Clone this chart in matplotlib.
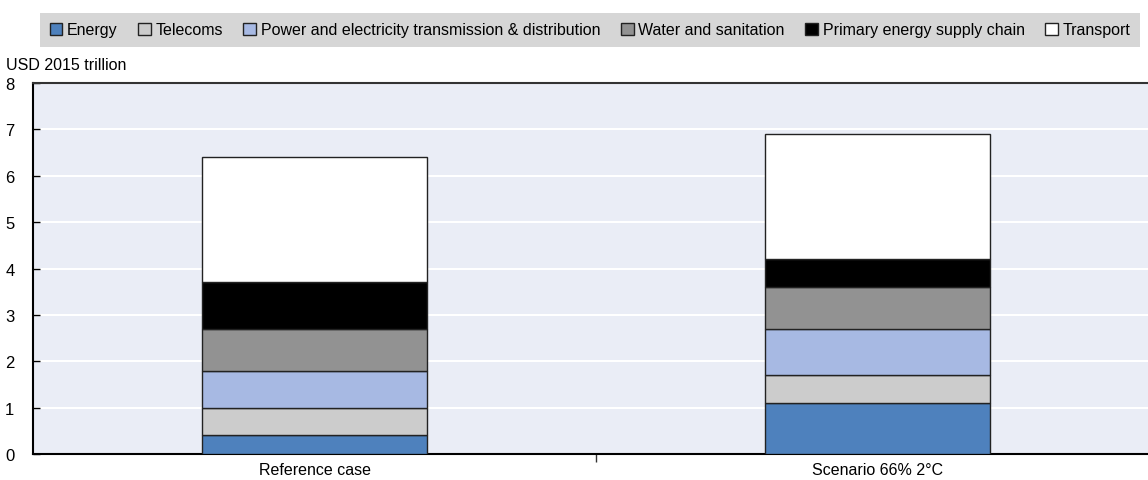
import matplotlib
matplotlib.use("Agg")
import matplotlib.pyplot as plt
from matplotlib.patches import Patch
import numpy as np

plt.rcParams['font.family'] = ['Liberation Sans', 'DejaVu Sans']

categories = ["Reference case", "Scenario 66% 2°C"]
series_names = ["Energy", "Telecoms", "Power and electricity transmission & distribution",
                "Water and sanitation", "Primary energy supply chain", "Transport"]
energy = [0.4, 1.1]
telecoms = [0.6, 0.6]
power = [0.8, 1.0]
water = [0.9, 0.9]
primary = [1.0, 0.6]
transport = [2.7, 2.7]
series_values = [energy, telecoms, power, water, primary, transport]
colors = ["#4E81BD", "#CCCCCC", "#A7B9E3", "#929292", "#000000", "#FFFFFF"]
y_ticks = [0, 1, 2, 3, 4, 5, 6, 7, 8]

fig = plt.figure(figsize=(11.48, 4.81), dpi=100)
ax = fig.add_axes([33 / 1148, 1 - 455 / 481, 1 - 33 / 1148, (455 - 84) / 481])
ax.set_facecolor("#EAEDF6")

x = np.arange(len(categories))
bottom = np.zeros(len(categories))
for vals, col in zip(series_values, colors):
    ax.bar(x, vals, width=0.4, bottom=bottom, color=col,
           edgecolor="#222222", linewidth=1.0, zorder=3)
    bottom += np.array(vals)

ax.set_xlim(-0.5, 1.48)
ax.set_ylim(0, 8)
ax.set_yticks(y_ticks)
ax.yaxis.grid(True, color="white", linewidth=1.5, zorder=0)
ax.set_axisbelow(True)
ax.tick_params(axis="y", direction="in", length=5, width=1, labelsize=12, pad=20)
for lbl in ax.get_yticklabels():
    lbl.set_horizontalalignment("left")
ax.set_xticks(x)
ax.set_xticklabels(categories, fontsize=11.5)
ax.tick_params(axis="x", length=0, pad=6)
ax.set_xticks([0.5], minor=True)
ax.tick_params(axis="x", which="minor", direction="out", length=6, width=1, color="#333333")

for side in ["left", "bottom"]:
    ax.spines[side].set_color("black")
    ax.spines[side].set_linewidth(1.5)
ax.spines["top"].set_color("#333333")
ax.spines["top"].set_linewidth(1.5)
ax.spines["right"].set_visible(False)

fig.text(6 / 1148, 1 - 66 / 481, "USD 2015 trillion", fontsize=11.5, va="center", ha="left")

handles = [Patch(facecolor=c, edgecolor="#222222", linewidth=1.0) for c in colors]
leg = fig.legend(handles, series_names, loc="lower left", ncol=6,
                 bbox_to_anchor=(40 / 1148, 1 - 48 / 481, 1100 / 1148, 36 / 481),
                 mode="expand", frameon=True, fancybox=False, fontsize=11.5,
                 handlelength=0.8, handleheight=0.8, handletextpad=0.3,
                 columnspacing=1.0, borderaxespad=0, borderpad=0.6)
leg.get_frame().set_facecolor("#CCCCCC")
leg.get_frame().set_edgecolor("#CCCCCC")
leg.get_frame().set_linewidth(0)

fig.savefig("out.png", dpi=100)
